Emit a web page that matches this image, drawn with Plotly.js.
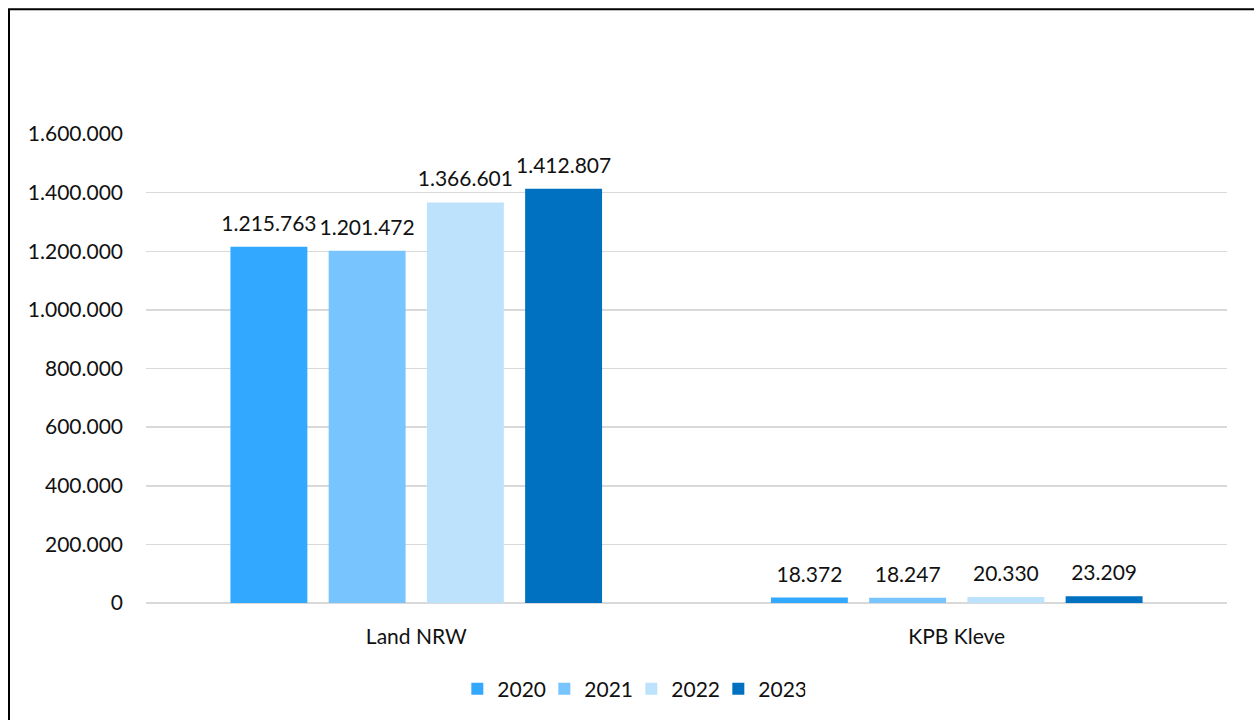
<!DOCTYPE html>
<html>
<head>
<meta charset="utf-8">
<script src="https://cdn.plot.ly/plotly-3.0.1.min.js"></script>
<style>html,body{margin:0;padding:0;background:#fff}#chart{width:1254px;height:720px}</style>
</head>
<body>
<div id="chart"></div>
<script>
var categories = ["Land NRW", "KPB Kleve"];
var years = ["2020", "2021", "2022", "2023"];
var values2020 = [1215763, 18372];
var values2021 = [1201472, 18247];
var values2022 = [1366601, 20330];
var values2023 = [1412807, 23209];
var yTicks = [0, 200000, 400000, 600000, 800000, 1000000, 1200000, 1400000, 1600000];

var seriesValues = [values2020, values2021, values2022, values2023];
var colors = ["#33A8FF", "#77C4FF", "#BDE2FC", "#0070C0"];
var FONT = "Lato, 'Open Sans', sans-serif";
// invisible spacer glyphs enlarge the label box so the label sits a bit higher above the bar
var PAD = "<span style='font-size:60px'>\u00a0</span>";

var traces = years.map(function (yr, i) {
  return {
    type: "bar",
    name: yr,
    x: categories,
    y: seriesValues[i],
    marker: {color: colors[i]},
    texttemplate: PAD + "%{y:,d}" + PAD,
    textposition: "outside",
    constraintext: "none",
    cliponaxis: false,
    textfont: {family: FONT, size: 21, color: "#111"},
    hoverinfo: "x+y+name"
  };
});

var layout = {
  width: 1254,
  height: 720,
  margin: {l: 146, r: 27, t: 134, b: 116, pad: 0},
  paper_bgcolor: "#fff",
  plot_bgcolor: "#fff",
  separators: ",.",
  barmode: "group",
  bargap: 0.273,
  bargroupgap: 0.217,
  font: {family: FONT, size: 21, color: "#111"},
  xaxis: {
    type: "category",
    showgrid: false,
    showline: false,
    zeroline: false,
    ticks: "",
    ticklabelstandoff: 19,
    tickfont: {family: FONT, size: 21, color: "#111"}
  },
  yaxis: {
    range: [0, 1600000],
    tickvals: yTicks,
    tickformat: ",d",
    showgrid: true,
    gridcolor: "#D9D9D9",
    gridwidth: 1.5,
    zeroline: true,
    zerolinecolor: "#D9D9D9",
    zerolinewidth: 1.5,
    showline: false,
    ticks: "",
    ticklabelstandoff: 22,
    tickfont: {family: FONT, size: 21, color: "#111"}
  },
  showlegend: true,
  legend: {
    orientation: "h",
    x: 0.288,
    xanchor: "left",
    y: -0.181,
    yanchor: "middle",
    entrywidth: 42,
    entrywidthmode: "pixels",
    font: {family: FONT, size: 21, color: "#111"},
    bgcolor: "rgba(0,0,0,0)",
    traceorder: "normal"
  },
  shapes: [{
    type: "rect",
    xref: "paper", yref: "paper",
    x0: -0.12673, x1: 1.2,
    y0: -0.5, y1: 1.26596,
    line: {color: "#000", width: 2},
    fillcolor: "rgba(0,0,0,0)",
    layer: "above"
  }]
};

Plotly.newPlot("chart", traces, layout, {displayModeBar: false, staticPlot: true});
</script>
</body>
</html>
